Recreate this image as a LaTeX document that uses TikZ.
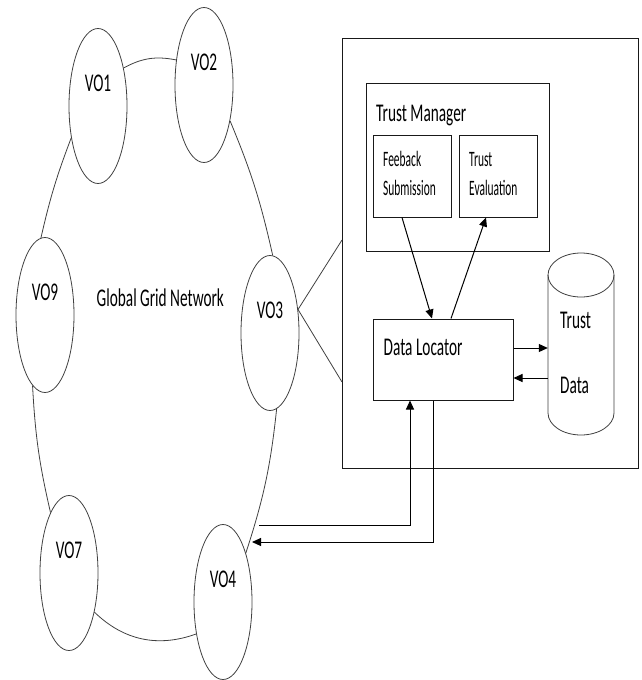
\documentclass[tikz,border=0pt]{standalone}
\usepackage{fontspec}
\setmainfont{Carlito}
\newfontfamily\bigfont[FakeStretch=0.6]{Carlito}
\newfontfamily\smallfont[FakeStretch=0.52]{Carlito}
\usetikzlibrary{shapes.geometric,arrows.meta,calc}
\begin{document}
\begin{tikzpicture}[x=1pt,y=1pt,
  vo/.style={ellipse, draw=black!75, line width=0.8pt, minimum width=58pt, minimum height=155pt, inner sep=0pt},
  ring/.style={draw=black!75, line width=0.8pt},
  box/.style={draw=black!90, line width=1pt, rectangle, inner sep=0pt},
  big/.style={font=\bigfont\fontsize{25.5}{30}\selectfont, inner sep=0pt},
  small/.style={font=\smallfont\fontsize{22}{26}\selectfont, inner sep=0pt},
  vlabel/.style={big, anchor=base, yshift=23pt},
  arr/.style={line width=1pt, -{Triangle[length=9pt,width=8pt]}},
  ln/.style={line width=1pt}]
\useasboundingbox (0,0) rectangle (641,-680);

% VO ellipses
\node[vo, label={[vlabel]center:VO1}] (vo1) at (98,-106) {};
\node[vo, label={[vlabel]center:VO2}] (vo2) at (204,-85) {};
\node[vo, label={[vlabel]center:VO9}] (vo9) at (45,-315) {};
\node[vo, label={[vlabel]center:VO3}] (vo3) at (270,-333) {};
\node[vo, label={[vlabel]center:VO7}] (vo7) at (69,-573) {};
\node[vo, label={[vlabel]center:VO4}] (vo4) at (223,-602) {};

% ring connectors
\draw[ring] (vo1.56) to[bend left=20] (vo2.138);
\draw[ring] (vo2.-54) to[bend left=5] (vo3.88);
\draw[ring] (vo1.230) to[bend right=4] (vo9.93);
\draw[ring] (vo9.260) to[bend right=5] (vo7.107);
\draw[ring] (vo7.-57) to[bend right=32] (vo4.230);
\draw[ring] (vo3.-85) to[bend left=6] (vo4.65);

\node[big, anchor=base west] (ggn) at (96.5,-306) {Global Grid Network};

% outer box
\node[box, minimum width=296pt, minimum height=430pt] (outer) at (490,-253) {};
\coordinate (ca) at (342,-240);
\coordinate (cb) at (342,-382);
\draw[ring] (ca) -- (vo3.40) -- (cb);

% trust manager
\node[box, minimum width=183pt, minimum height=168pt] (tm) at (457.5,-167) {};
\node[big, anchor=base west] (tmt) at (376,-121) {Trust Manager};
\node[box, minimum width=78pt, minimum height=82pt] (fs) at (412,-176) {};
\node[small, anchor=base west] (fst1) at (383,-166) {Feeback};
\node[small, anchor=base west] (fst2) at (383,-195) {Submission};
\node[box, minimum width=78pt, minimum height=82pt] (te) at (498,-176) {};
\node[small, anchor=base west] (tet1) at (469,-166) {Trust};
\node[small, anchor=base west] (tet2) at (469,-195) {Evaluation};

% data locator
\node[box, minimum width=140pt, minimum height=81pt] (dl) at (443,-359.5) {};
\node[big, anchor=base west] (dlt) at (383.5,-355) {Data Locator};

% cylinder
\node[inner sep=0pt, minimum width=66pt, minimum height=182pt] (db) at (581,-344) {};
\draw[ring, fill=white] (548,-275) -- (548,-413) arc[start angle=180, end angle=360, x radius=33, y radius=22] -- (614,-275);
\draw[ring] (581,-275) ellipse [x radius=33, y radius=22];
\node[big, anchor=base west] (dbt1) at (560,-328) {Trust};
\node[big, anchor=base west] (dbt2) at (560,-393) {Data};

% arrows inside
\draw[arr] ([xshift=-10pt]fs.south) -- ([xshift=-11pt]dl.north);
\draw[arr] ([xshift=8pt]dl.north) -- ([xshift=-12pt]te.south);
\draw[arr] ([yshift=11.5pt]dl.east) -- ([yshift=11.5pt]dl.east -| db.west);
\draw[arr] ([yshift=-18.5pt]dl.east -| db.west) -- ([yshift=-18.5pt]dl.east);

% arrows to VO4
\coordinate (p1) at (259,-525);
\coordinate (p2) at (252,-542);
\draw[arr] (p1) -| ([xshift=-33pt]dl.south);
\draw[arr] ([xshift=-10pt]dl.south) |- (p2);
\end{tikzpicture}
\end{document}
